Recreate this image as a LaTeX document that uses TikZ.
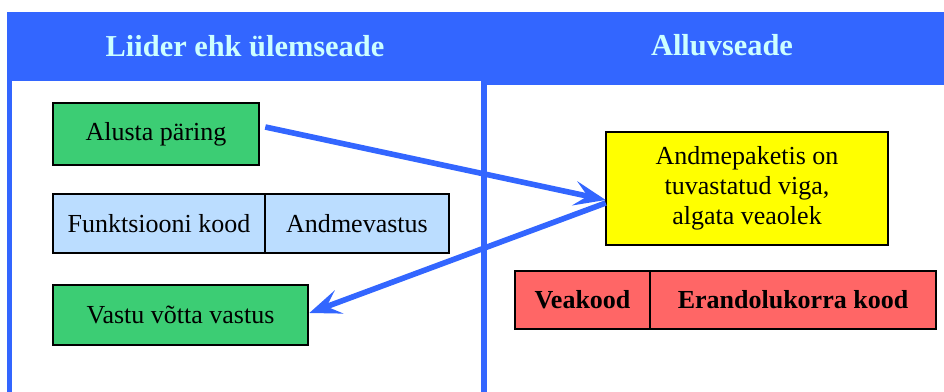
\documentclass[tikz,border=0pt]{standalone}
\usepackage{fontspec}
\setmainfont{Liberation Serif}
\usetikzlibrary{arrows.meta,calc}
\definecolor{hdrblue}{HTML}{3366FF}
\definecolor{hdrtext}{HTML}{CCFFFF}
\definecolor{boxgreen}{HTML}{3CCD74}
\definecolor{boxblue}{HTML}{BBDDFF}
\definecolor{boxyellow}{HTML}{FFFF00}
\definecolor{boxred}{HTML}{FF6666}
\tikzset{
  hdr/.style={text=hdrtext, font=\fontsize{17.3}{20}\selectfont\bfseries, inner sep=0pt},
  box/.style={draw=black, line width=1.5pt, inner sep=0pt, font=\fontsize{14.8}{17}\selectfont, align=center},
  arr/.style={draw=hdrblue, line width=3.2pt, -{Stealth[length=18pt, width=14pt, inset=7.5pt]}}
}
\begin{document}
\begin{tikzpicture}[x=0.02cm, y=-0.02cm]
\useasboundingbox (0,0) rectangle (944,392);
\fill[hdrblue] (7,12) rectangle (481,81);
\fill[hdrblue] (481,12) rectangle (944,85);
\fill[hdrblue] (7,81) rectangle (12,392);
\fill[hdrblue] (481,81) rectangle (487,392);
\node[hdr] (h1) at (245,46) {Liider ehk ülemseade};
\node[hdr] (h2) at (722,45) {Alluvseade};

\node[box, fill=boxgreen, minimum width=4.12cm, minimum height=1.24cm] (alusta) at (156,134) {Alusta päring};
\node[box, fill=boxblue, minimum width=4.24cm, minimum height=1.18cm] (funk) at (159,223.5) {Funktsiooni kood};
\node[box, fill=boxblue, minimum width=3.68cm, minimum height=1.18cm] (andm) at (357,223.5) {Andmevastus};
\node[box, fill=boxgreen, minimum width=5.10cm, minimum height=1.2cm] (vastu) at (180.5,315) {Vastu võtta vastus};
\node[box, fill=boxyellow, minimum width=5.64cm, minimum height=2.26cm] (viga) at (747,188.5) {Andmepaketis on\\tuvastatud viga,\\algata veaolek};
\node[box, fill=boxred, minimum width=2.70cm, minimum height=1.16cm, font=\fontsize{14.8}{17}\selectfont\bfseries] (vea) at (582.5,300) {Veakood};
\node[box, fill=boxred, minimum width=5.72cm, minimum height=1.16cm, font=\fontsize{14.8}{17}\selectfont\bfseries] (erand) at (793,300) {Erandolukorra kood};

\draw[arr] ($(alusta.east)+(5,-7)$) -- ($(viga.west)+(1,11.5)$);
\draw[arr] ($(viga.west)+(1,14.5)$) -- ($(vastu.east)+(0,-2)$);
\end{tikzpicture}
\end{document}
